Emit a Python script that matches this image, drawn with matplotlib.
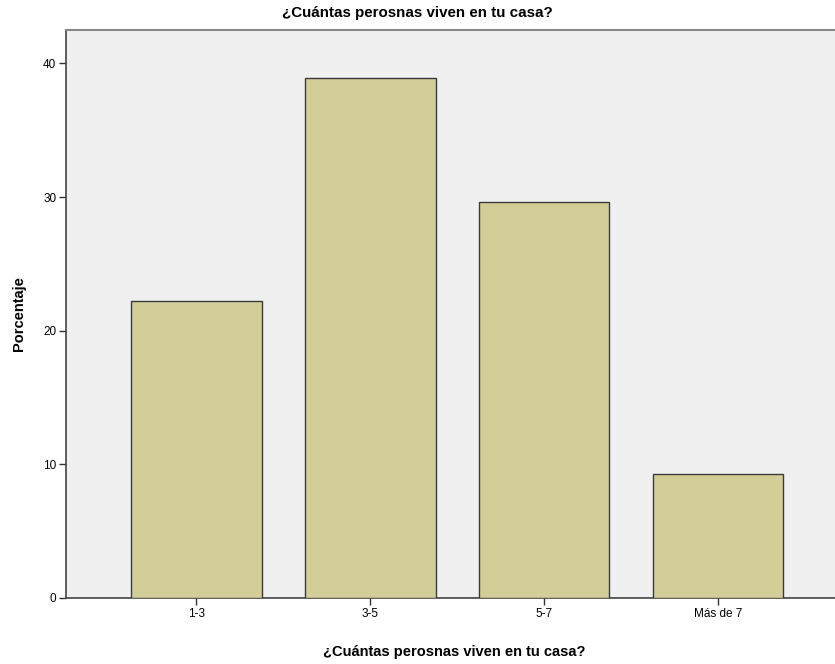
import matplotlib
matplotlib.use("Agg")
import matplotlib.pyplot as plt

categories = ["1-3", "3-5", "5-7", "Más de 7"]
values = [22.2, 38.9, 29.6, 9.3]
yticks = [0, 10, 20, 30, 40]

plt.rcParams['font.family'] = ['Liberation Sans', 'DejaVu Sans']

fig = plt.figure(figsize=(8.35, 6.64), dpi=100)
ax = fig.add_axes([66/835, 66/664, 1 - 66/835 + 0.01, (598-30)/664])
ax.set_facecolor('#F0F0F0')

x = list(range(len(categories)))
ax.bar(x, values, width=0.75, color='#D3CE97', edgecolor='#3A3A3A', linewidth=1.0, zorder=3)

ax.set_xlim(-0.75, 3.72)
ax.set_ylim(0, 42.5)
ax.set_xticks(x)
ax.set_xticklabels(categories, fontsize=8.5)
ax.set_yticks(yticks)
ax.set_yticklabels([str(t) for t in yticks], fontsize=8.5)
ax.tick_params(axis='both', direction='out', length=5, width=1, color='#333333', pad=2)

for s in ['left', 'bottom']:
    ax.spines[s].set_color('#444444')
    ax.spines[s].set_linewidth(1.2)
ax.spines['top'].set_color('#888888')
ax.spines['top'].set_linewidth(1.5)
ax.spines['right'].set_visible(False)

ax.set_ylabel('Porcentaje', fontsize=10.5, fontweight='bold', labelpad=12)
ax.set_xlabel('¿Cuántas perosnas viven en tu casa?', fontsize=10.5, fontweight='bold', labelpad=18)
fig.text(0.5, 1 - 13/664, '¿Cuántas perosnas viven en tu casa?', fontsize=10.9, fontweight='bold',
         ha='center', va='center')

fig.savefig('out.png', dpi=100)
